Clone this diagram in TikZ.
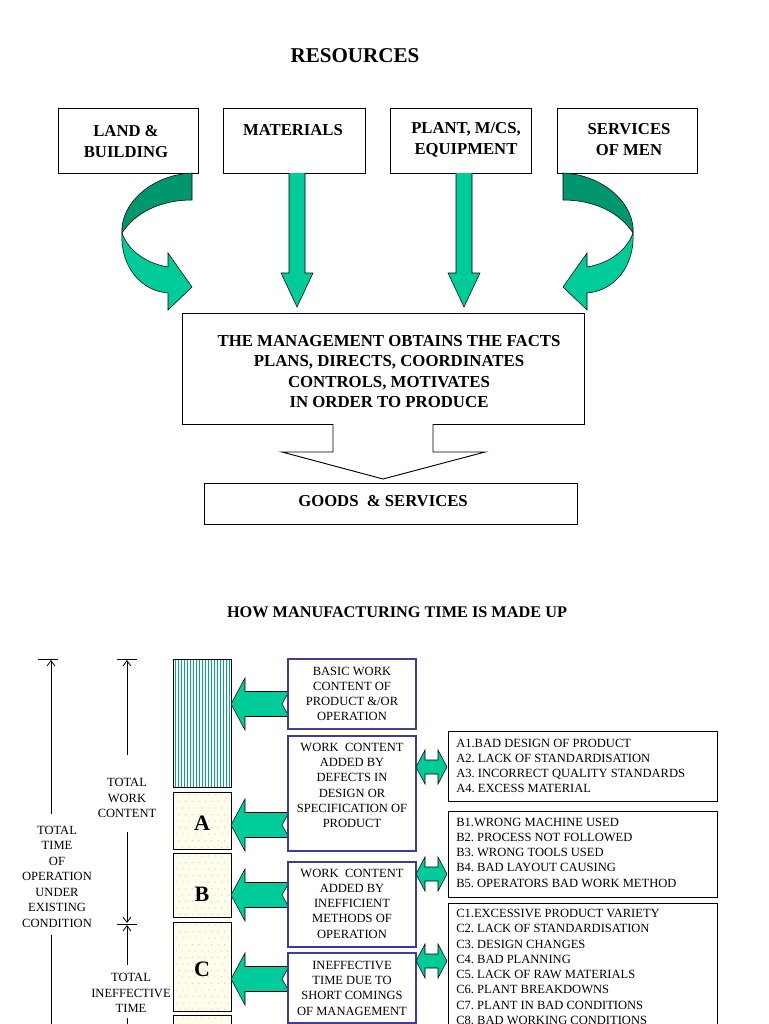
\documentclass[tikz,border=0pt]{standalone}
\usepackage{fontspec}
\setmainfont{Liberation Serif}
\usetikzlibrary{fit,arrows.meta}
\frenchspacing
\definecolor{lgreen}{RGB}{0,204,153}
\definecolor{dgreen}{RGB}{0,150,110}
\definecolor{navyb}{RGB}{60,60,160}
\definecolor{stripec}{RGB}{0,170,130}
\definecolor{creamc}{RGB}{255,253,238}
\definecolor{dotc}{RGB}{235,200,100}
\newcommand{\myleftarrow}[1]{\filldraw[garrow] (231,#1) -- (245,#1-26) -- (245,#1-12.5) -- (289,#1-12.5) -- (282,#1) -- (289,#1+12.5) -- (245,#1+12.5) -- (245,#1+26) -- cycle;}
\newcommand{\mydblarrow}[1]{\filldraw[garrow] (416,#1) -- (425,#1-17) -- (425,#1-7) -- (438,#1-7) -- (438,#1-17) -- (447,#1) -- (438,#1+17) -- (438,#1+7) -- (425,#1+7) -- (425,#1+17) -- cycle;}
\newcommand{\mydots}[4]{\begin{scope}\clip (#1,#2) rectangle (#3,#4);
\foreach \i in {0,...,9}{\foreach \j in {0,...,16}{\fill[dotc] ({#1+3+\i*6.5+mod(\j,2)*3.25},{#2+3+\j*6.5}) circle[radius=0.45pt];}}\end{scope}}
\begin{document}
\begin{tikzpicture}[x=0.75pt,y=-0.75pt,
  bbox/.style={draw=black, line width=0.7pt, fill=white, inner sep=0pt},
  bluebox/.style={draw=navyb, line width=0.8pt, fill=white, inner sep=0pt},
  btxt/.style={font=\bfseries\fontsize{12.5}{15.75}\selectfont, align=center, inner sep=0pt},
  mtxt/.style={font=\bfseries\fontsize{12.6}{15.2}\selectfont, align=center, inner sep=0pt},
  stxt/.style={font=\fontsize{9.4}{11.45}\selectfont, align=center, inner sep=0pt},
  ltxt/.style={font=\fontsize{9.4}{11.45}\selectfont, align=left, inner sep=0pt, anchor=west},
  lettr/.style={font=\bfseries\fontsize{16.5}{18}\selectfont, inner sep=0pt},
  garrow/.style={fill=lgreen, draw=black, line width=0.4pt, line join=miter},
  darrow/.style={fill=dgreen, draw=black, line width=0.4pt},
  dim/.style={line width=0.6pt},
  dimarr/.style={line width=0.6pt, -{Straight Barb[length=4pt,width=6pt]}},
  stripe/.style={draw=stripec, line width=0.45pt},
  block/.style={draw=black, line width=0.7pt}
]
\useasboundingbox (0,0) rectangle (768,1024);
\clip (0,0) rectangle (768,1024);

% ---------- top part ----------
\node[font=\bfseries\fontsize{15.8}{18}\selectfont, inner sep=0pt] (res) at (355,56) {RESOURCES};

\node[bbox, fit={(58,108)(198,173)}] (land) {};
\node[bbox, fit={(223,108)(365,173)}] (mat) {};
\node[bbox, fit={(390,108)(531,173)}] (plant) {};
\node[bbox, fit={(557,108)(697,173)}] (serv) {};
\node[btxt] (landT) at (126,141.5) {LAND \&\\BUILDING};
\node[btxt] (matT) at (293,130) {MATERIALS};
\node[btxt] (plantT) at (466,140) {PLANT, M/CS,\\EQUIPMENT};
\node[btxt] (servT) at (629,140) {SERVICES\\OF MEN};

% straight arrows
\filldraw[garrow] (289,173) -- (289,273) -- (281,273) -- (297,307) -- (313,273) -- (305,273) -- (305,173);
\filldraw[garrow] (456,173) -- (456,273) -- (448,273) -- (464,307) -- (480,273) -- (472,273) -- (472,173);

% curved arrow left
\filldraw[darrow] (192,173) .. controls (150,175) and (120,205) .. (122,233)
  .. controls (135,213) and (160,200) .. (192,200) -- cycle;
\filldraw[garrow] (122,233) .. controls (120,265) and (140,291) .. (168,293)
  -- (168,310) -- (192,287) -- (168,253) -- (168,267)
  .. controls (145,263) and (128,250) .. (122,233) -- cycle;
% curved arrow right (mirror)
\filldraw[darrow] (563,173) .. controls (605,175) and (635,205) .. (633,233)
  .. controls (620,213) and (595,200) .. (563,200) -- cycle;
\filldraw[garrow] (633,233) .. controls (635,265) and (615,291) .. (587,293)
  -- (587,310) -- (563,287) -- (587,253) -- (587,267)
  .. controls (610,263) and (627,250) .. (633,233) -- cycle;

% management box
\node[bbox, fit={(182,313)(584,424)}] (mgmt) {};
\node[mtxt] (mgmtT) at (389,371.5) {THE MANAGEMENT OBTAINS THE FACTS\\PLANS, DIRECTS, COORDINATES\\CONTROLS, MOTIVATES\\IN ORDER TO PRODUCE};
% open block arrow
\fill[white] (333,423) -- (333,452) -- (282,452) -- (383,479) -- (485,452) -- (433,452) -- (433,423) -- cycle;
\draw[line width=0.7pt] (333,424) -- (333,452) -- (282,452) -- (383,479) -- (485,452) -- (433,452) -- (433,424);
\node[bbox, fit={(204,483)(577,524)}] (goods) {};
\node[btxt] (goodsT) at (383,501) {GOODS~~\& SERVICES};

\node[font=\bfseries\fontsize{12.2}{14}\selectfont, inner sep=0pt] (title) at (397,612) {HOW MANUFACTURING TIME IS MADE UP};

% ---------- bottom part ----------
% dimension lines
\draw[dim] (38,659) -- (58,659);
\draw[dimarr] (51,814) -- (51,660);
\draw[dim] (51,935) -- (51,1030);
\node[stxt, font=\fontsize{9.4}{11.6}\selectfont] (totT) at (57,876.5) {TOTAL\\TIME\\OF\\OPERATION\\UNDER\\EXISTING\\CONDITION};

\draw[dim] (117,659) -- (137,659);
\draw[dimarr] (127,755) -- (127,660);
\node[stxt] (workT) at (127,798) {TOTAL\\WORK\\CONTENT};
\draw[dimarr] (127,832) -- (127,923);
\draw[dim] (117,924) -- (137,924);
\draw[dimarr] (127,965) -- (127,925);
\node[stxt] (ineffT) at (131,993) {TOTAL\\INEFFECTIVE\\TIME};
\draw[dim] (127,1018) -- (127,1030);

% column blocks
\fill[white] (173,659) rectangle (231,787);
\foreach \x in {175,178,...,230} {\draw[stripe] (\x,659) -- (\x,787);}
\node[block, fit={(173,659)(231,787)}, inner sep=0pt] (basic) {};

\fill[creamc] (173,792) rectangle (231,849);
\mydots{173}{792}{231}{849}
\node[block, fit={(173,792)(231,849)}, inner sep=0pt] (blkA) {};
\node[lettr] (lA) at (202,823) {A};

\fill[creamc] (173,853) rectangle (231,917);
\mydots{173}{853}{231}{917}
\node[block, fit={(173,853)(231,917)}, inner sep=0pt] (blkB) {};
\node[lettr] (lB) at (202,894) {B};

\fill[creamc] (173,922) rectangle (231,1011);
\mydots{173}{922}{231}{1011}
\node[block, fit={(173,922)(231,1011)}, inner sep=0pt] (blkC) {};
\node[lettr] (lC) at (202,969) {C};

\fill[creamc] (173,1015) rectangle (231,1040);
\mydots{173}{1015}{231}{1040}
\node[block, fit={(173,1015)(231,1040)}, inner sep=0pt] (blkD) {};

% left block arrows
\myleftarrow{704}
\myleftarrow{825}
\myleftarrow{895}
\myleftarrow{979}

% middle boxes
\node[bluebox, fit={(288,659)(416,729)}] (m1) {};
\node[stxt] (m1T) at (352,694) {BASIC WORK\\CONTENT OF\\PRODUCT \&/OR\\OPERATION};
\node[bluebox, fit={(288,736)(416,851)}] (m2) {};
\node[stxt] (m2T) at (352,785.5) {WORK~~CONTENT\\ADDED BY\\DEFECTS IN\\DESIGN OR\\SPECIFICATION OF\\PRODUCT};
\node[bluebox, fit={(288,862)(416,947)}] (m3) {};
\node[stxt] (m3T) at (352,903.5) {WORK~~CONTENT\\ADDED BY\\INEFFICIENT\\METHODS OF\\OPERATION};
\node[bluebox, fit={(288,953)(416,1023)}] (m4) {};
\node[stxt] (m4T) at (352,988) {INEFFECTIVE\\TIME DUE TO\\SHORT COMINGS\\OF MANAGEMENT};

% double arrows
\mydblarrow{767}
\mydblarrow{874}
\mydblarrow{961}

% list boxes
\node[bbox, fit={(448,731)(717,801)}] (la) {};
\node[ltxt] (laT) at (456,766) {A1.BAD DESIGN OF PRODUCT\\A2. LACK OF STANDARDISATION\\A3. INCORRECT QUALITY STANDARDS\\A4. EXCESS MATERIAL};
\node[bbox, fit={(448,811)(717,897)}] (lb) {};
\node[ltxt] (lbT) at (456,852.5) {B1.WRONG MACHINE USED\\B2. PROCESS NOT FOLLOWED\\B3. WRONG TOOLS USED\\B4. BAD LAYOUT CAUSING\\B5. OPERATORS BAD WORK METHOD};
\node[bbox, fit={(448,903)(717,1040)}] (lc) {};
\node[ltxt] (lcT) at (456,967) {C1.EXCESSIVE PRODUCT VARIETY\\C2. LACK OF STANDARDISATION\\C3. DESIGN CHANGES\\C4. BAD PLANNING\\C5. LACK OF RAW MATERIALS\\C6. PLANT BREAKDOWNS\\C7. PLANT IN BAD CONDITIONS\\C8. BAD WORKING CONDITIONS};
\end{tikzpicture}
\end{document}
